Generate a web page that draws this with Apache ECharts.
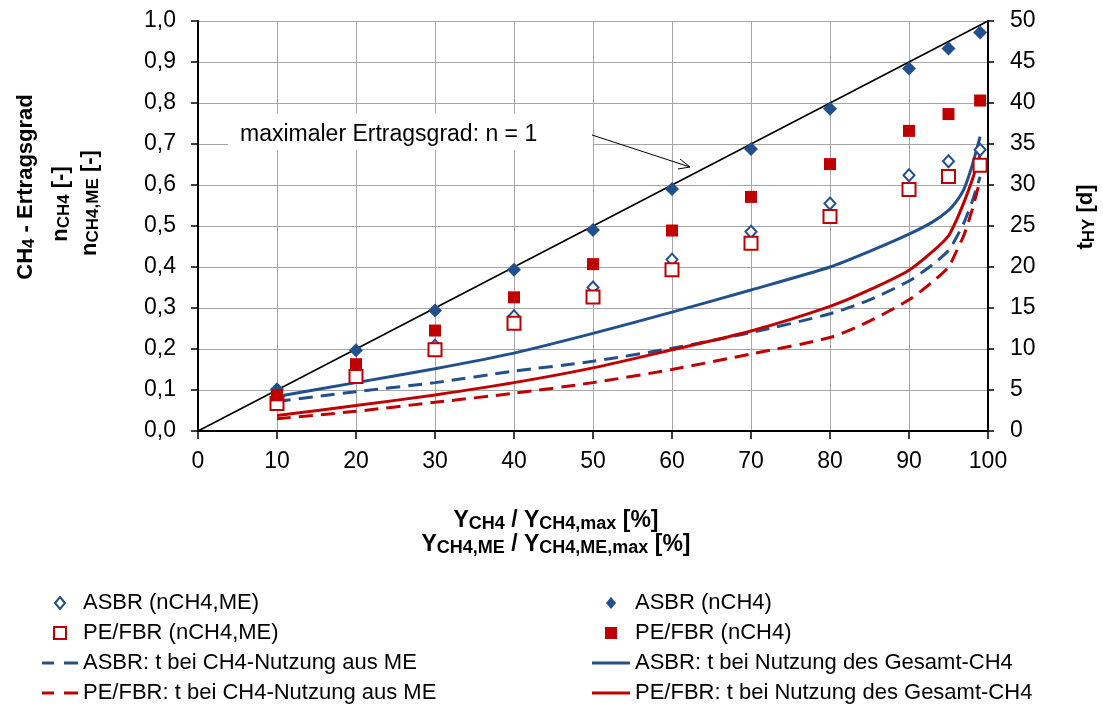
<!DOCTYPE html>
<html>
<head>
<meta charset="utf-8">
<script src="https://cdn.jsdelivr.net/npm/echarts@6/dist/echarts.min.js"></script>
<style>
html,body{margin:0;padding:0;background:#fff;}
#chart{width:1103px;height:709px;}
</style>
</head>
<body>
<div id="chart"></div>
<script>
// ---- data ----
const xPts = [10, 20, 30, 40, 50, 60, 70, 80, 90, 95, 99];
const asbrN   = [0.102, 0.197, 0.294, 0.393, 0.490, 0.590, 0.688, 0.786, 0.884, 0.933, 0.972];
const peN     = [0.087, 0.163, 0.245, 0.326, 0.407, 0.489, 0.571, 0.651, 0.732, 0.773, 0.806];
const asbrME  = [0.075, 0.142, 0.208, 0.280, 0.350, 0.418, 0.486, 0.555, 0.624, 0.658, 0.686];
const peME    = [0.067, 0.133, 0.198, 0.263, 0.327, 0.393, 0.458, 0.523, 0.589, 0.621, 0.648];

const tX        = [10, 20, 30, 40, 50, 60, 70, 80, 85, 90, 93, 95, 96, 97, 98, 99];
const asbrTGes  = [4.2, 5.9, 7.6, 9.5, 11.9, 14.5, 17.2, 20.0, 21.9, 24.0, 25.5, 26.9, 28.0, 29.6, 32.4, 35.9];
const asbrTME   = [3.6, 4.8, 5.9, 7.3, 8.5, 10.1, 12.0, 14.3, 16.0, 18.3, 20.3, 22.0, 23.6, 25.5, 28.0, 31.0];
const peTGes    = [1.9, 3.1, 4.4, 5.9, 7.7, 9.9, 12.2, 15.2, 17.2, 19.6, 21.9, 23.8, 25.7, 28.0, 30.6, 33.7];
const peTME     = [1.5, 2.4, 3.5, 4.6, 5.9, 7.5, 9.4, 11.4, 13.4, 16.0, 18.2, 20.0, 21.9, 24.0, 27.0, 30.6];

const maxLineX = [0, 100];
const maxLineY = [0, 1];

const leftTicksFmt = v => v.toFixed(1).replace('.', ',');

const names = {
  asbrME: 'ASBR (nCH4,ME)', peME: 'PE/FBR (nCH4,ME)',
  asbrTME: 'ASBR: t bei CH4-Nutzung aus ME', peTME: 'PE/FBR: t bei CH4-Nutzung aus ME',
  asbrN: 'ASBR (nCH4)', peN: 'PE/FBR (nCH4)',
  asbrTGes: 'ASBR: t bei Nutzung des Gesamt-CH4', peTGes: 'PE/FBR: t bei Nutzung des Gesamt-CH4'
};

// ---- build ----
const BLUE = '#22508C', RED = '#C00000';
const FONT = 'Liberation Sans';
const zip = (xs, ys) => xs.map((x, i) => [x, ys[i]]);

const ICON_DIAMOND = 'path://M5,0L10,6L5,12L0,6Z';
const ICON_SQUARE = 'path://M0,0H10V10H0Z';
const ICON_DASH = 'path://M0,0H12V3H0Z M22,0H36V3H22Z';
const ICON_SOLID = 'path://M0,0H38V3H0Z';

const lineSeries = (name, ys, color, dashed) => ({
  name, type: 'line', yAxisIndex: 1, data: zip(tX, ys),
  showSymbol: false, symbol: 'none', smooth: 0.25,
  lineStyle: { color, width: 3, type: dashed ? [14, 8] : 'solid', opacity: 1 },
  itemStyle: { color, opacity: 1 }, z: 2
});
const scatterSeries = (name, ys, symbol, color, hollow, size) => ({
  name, type: 'scatter', yAxisIndex: 0, data: zip(xPts, ys),
  symbol, symbolSize: size,
  itemStyle: hollow ? { color: '#fff', borderColor: color, borderWidth: 2, opacity: 1 } : { color, opacity: 1 },
  z: 3
});

const rich = (m, s) => ({
  b: { fontFamily: FONT, fontSize: m, fontWeight: 'bold', lineHeight: 24, color: '#000' },
  s: { fontFamily: FONT, fontSize: s, fontWeight: 'bold', lineHeight: 12, verticalAlign: 'bottom', color: '#000' }
});
const titleText = (x, y, text, rot, m, s) => ({
  type: 'text', x, y, rotation: rot || 0, z: 20,
  style: { text, rich: rich(m || 22, s || 17), align: 'center', verticalAlign: 'middle', font: 'bold 22px ' + FONT }
});

const legendCommon = {
  orient: 'vertical', padding: 0, itemGap: 8, itemWidth: 36, itemHeight: 12,
  textStyle: { fontFamily: FONT, fontSize: 22, color: '#000', lineHeight: 22 },
  selectedMode: false, symbolKeepAspect: true
};

const chart = echarts.init(document.getElementById('chart'), null, { renderer: 'canvas' });
chart.setOption({
  animation: false,
  backgroundColor: '#fff',
  grid: { left: 198, right: 115, top: 21, bottom: 278, containLabel: false },
  xAxis: {
    type: 'value', min: 0, max: 100, interval: 10,
    axisLine: { show: true, lineStyle: { color: '#000', width: 2 } },
    axisTick: { show: true, length: 8, lineStyle: { color: '#000', width: 1.5 } },
    axisLabel: { fontFamily: FONT, fontSize: 23, color: '#000', margin: 19 },
    splitLine: { show: true, lineStyle: { color: '#a6a6a6', width: 1 } }
  },
  yAxis: [{
    type: 'value', min: 0, max: 1, interval: 0.1, position: 'left',
    axisLine: { show: true, lineStyle: { color: '#000', width: 2 } },
    axisTick: { show: true, length: 7, lineStyle: { color: '#000', width: 1.5 } },
    axisLabel: { formatter: leftTicksFmt, fontFamily: FONT, fontSize: 23, color: '#000', margin: 22 },
    splitLine: { show: true, lineStyle: { color: '#a6a6a6', width: 1 } }
  }, {
    type: 'value', min: 0, max: 50, interval: 5, position: 'right',
    axisLine: { show: true, lineStyle: { color: '#000', width: 2 } },
    axisTick: { show: true, length: 6, lineStyle: { color: '#000', width: 1.5 } },
    axisLabel: { fontFamily: FONT, fontSize: 23, color: '#000', margin: 22 },
    splitLine: { show: false }
  }],
  legend: [
    Object.assign({}, legendCommon, {
      left: 42, top: 592,
      data: [
        { name: names.asbrME, icon: ICON_DIAMOND },
        { name: names.peME, icon: ICON_SQUARE },
        { name: names.asbrTME, icon: ICON_DASH },
        { name: names.peTME, icon: ICON_DASH }
      ]
    }),
    Object.assign({}, legendCommon, {
      left: 592, top: 592, itemWidth: 38,
      data: [
        { name: names.asbrN, icon: ICON_DIAMOND },
        { name: names.peN, icon: ICON_SQUARE },
        { name: names.asbrTGes, icon: ICON_SOLID },
        { name: names.peTGes, icon: ICON_SOLID }
      ]
    })
  ],
  series: [
    {
      name: 'maximaler Ertragsgrad', type: 'line', yAxisIndex: 0,
      data: zip(maxLineX, maxLineY), symbol: 'none',
      lineStyle: { color: '#000', width: 1.6 }, z: 1
    },
    lineSeries(names.asbrTME, asbrTME, BLUE, true),
    lineSeries(names.peTME, peTME, RED, true),
    lineSeries(names.asbrTGes, asbrTGes, BLUE, false),
    lineSeries(names.peTGes, peTGes, RED, false),
    scatterSeries(names.asbrME, asbrME, 'diamond', BLUE, true, [11, 12]),
    scatterSeries(names.peME, peME, 'rect', RED, true, 13),
    scatterSeries(names.asbrN, asbrN, 'diamond', BLUE, false, [14, 14]),
    scatterSeries(names.peN, peN, 'rect', RED, false, 12)
  ],
  graphic: [
    { type: 'rect', z: 15, shape: { x: 228, y: 113, width: 365, height: 37 }, style: { fill: '#fff' } },
    { type: 'text', z: 16, x: 240, y: 135, style: { text: 'maximaler Ertragsgrad: n = 1', font: '23px ' + FONT, fill: '#000', align: 'left', verticalAlign: 'middle' } },
    { type: 'line', z: 16, shape: { x1: 592, y1: 135, x2: 690, y2: 167 }, style: { stroke: '#000', lineWidth: 1 } },
    { type: 'polyline', z: 16, shape: { points: [[680, 159], [690, 167], [678, 169]] }, style: { stroke: '#000', lineWidth: 1, fill: null } },
    titleText(556, 533, '{b|Y}{s|CH4}{b| / Y}{s|CH4,max}{b| [%]}\n{b|Y}{s|CH4,ME}{b| / Y}{s|CH4,ME,max}{b| [%]}', 0, 23, 18),
    titleText(26, 187, '{b|CH}{s|4}{b| - Ertragsgrad}', Math.PI / 2),
    titleText(61, 204, '{b|n}{s|CH4}{b| [-]}', Math.PI / 2),
    titleText(90, 203, '{b|n}{s|CH4,ME}{b| [-]}', Math.PI / 2),
    titleText(1086, 217, '{b|t}{s|HY}{b| [d]}', Math.PI / 2)
  ]
});
</script>
</body>
</html>
